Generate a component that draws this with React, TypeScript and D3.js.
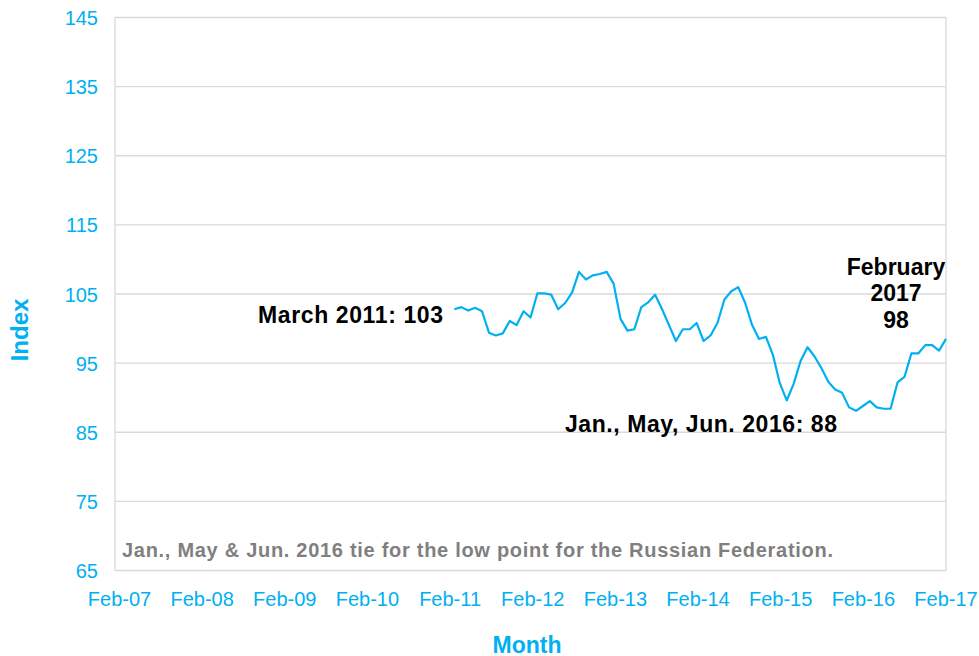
import React from "react";
import * as d3 from "d3";

const W = 979;
const H = 656;

// Month labels on the x axis (Feb of each year)
const xTickLabels = ["Feb-07", "Feb-08", "Feb-09", "Feb-10", "Feb-11", "Feb-12", "Feb-13", "Feb-14", "Feb-15", "Feb-16", "Feb-17"];
const yTicks = [65, 75, 85, 95, 105, 115, 125, 135, 145];

// Series starts March 2011 (month index 49 counted from Feb-07 = 0)
const seriesStartIndex = 49;
const indexValues = [
  // 2011 Mar–Dec
  102.8, 103.1, 102.6, 103.0, 102.5, 99.4, 99.0, 99.3, 101.1, 100.5,
  // 2012
  102.5, 101.6, 105.1, 105.1, 104.9, 102.8, 103.7, 105.2, 108.2, 107.1, 107.7, 107.9,
  // 2013
  108.2, 106.5, 101.4, 99.7, 99.9, 103.1, 103.8, 104.9, 102.8, 100.5, 98.2, 99.9,
  // 2014
  99.9, 100.8, 98.2, 99.0, 100.8, 104.2, 105.4, 106.0, 103.7, 100.5, 98.5, 98.8,
  // 2015
  96.2, 92.1, 89.6, 92.0, 95.3, 97.3, 96.0, 94.3, 92.3, 91.2, 90.7, 88.6,
  // 2016
  88.1, 88.8, 89.5, 88.6, 88.4, 88.4, 92.2, 93.0, 96.4, 96.4, 97.6, 97.6,
  // 2017 Jan–Feb
  96.8, 98.5,
];

const annStart = "March 2011: 103";
const annLow = "Jan., May, Jun. 2016: 88";
const annEnd = ["February", "2017", "98"];
const note = "Jan., May & Jun. 2016 tie for the low point for the Russian Federation.";

const BLUE = "#00B0F0";
const GRID = "#D9D9D9";
const FONT = "Liberation Sans, Arial, sans-serif";

export default function App() {
  const left = 115;
  const right = 946;
  const top = 17.5;
  const bottom = 570.5;

  const x = d3.scaleLinear().domain([0, 120]).range([left, right]);
  const y = d3.scaleLinear().domain([65, 145]).range([bottom, top]);

  const pts = indexValues.map((v, i) => [seriesStartIndex + i, v] as [number, number]);
  const line = d3
    .line<[number, number]>()
    .x((d) => x(d[0]))
    .y((d) => y(d[1]));

  return (
    <svg width={W} height={H} style={{ position: "absolute", left: 0, top: 0, fontFamily: FONT }}>
      <rect x={0} y={0} width={W} height={H} fill="#fff" />
      {yTicks.map((t) => (
        <line key={"g" + t} x1={left} x2={right} y1={y(t)} y2={y(t)} stroke={GRID} strokeWidth={1.3} />
      ))}
      <line x1={left} x2={left} y1={top} y2={bottom} stroke={GRID} strokeWidth={1.3} />
      <line x1={right} x2={right} y1={top} y2={bottom} stroke={GRID} strokeWidth={1.3} />

      {yTicks.map((t) => (
        <text key={"y" + t} x={98} y={y(t) + 7.5} textAnchor="end" fontSize={20} fill={BLUE}>
          {t}
        </text>
      ))}
      {xTickLabels.map((l, i) => (
        <text key={l} x={x(i * 12) + 4.5 - i * 0.45} y={606} textAnchor="middle" fontSize={20} fill={BLUE}>
          {l}
        </text>
      ))}

      <path d={line(pts) || ""} fill="none" stroke={BLUE} strokeWidth={2.2} strokeLinejoin="round" />

      <text x={258} y={322.5} fontSize={23} fontWeight="bold" fill="#000" textLength={185} lengthAdjust="spacing">
        {annStart}
      </text>
      <text x={565} y={431.5} fontSize={23} fontWeight="bold" fill="#000" textLength={272} lengthAdjust="spacing">
        {annLow}
      </text>
      {annEnd.map((s, i) => (
        <text key={s} x={896} y={274.5 + i * 26.5} textAnchor="middle" fontSize={23} fontWeight="bold" fill="#000">
          {s}
        </text>
      ))}
      <text x={122} y={556.5} fontSize={20} fontWeight="bold" fill="#7F7F7F" textLength={711} lengthAdjust="spacing">
        {note}
      </text>

      <text x={527} y={652.5} textAnchor="middle" fontSize={23} fontWeight="bold" fill={BLUE}>
        Month
      </text>
      <text transform={`translate(28,330) rotate(-90)`} textAnchor="middle" fontSize={24} fontWeight="bold" fill={BLUE}>
        Index
      </text>
    </svg>
  );
}
